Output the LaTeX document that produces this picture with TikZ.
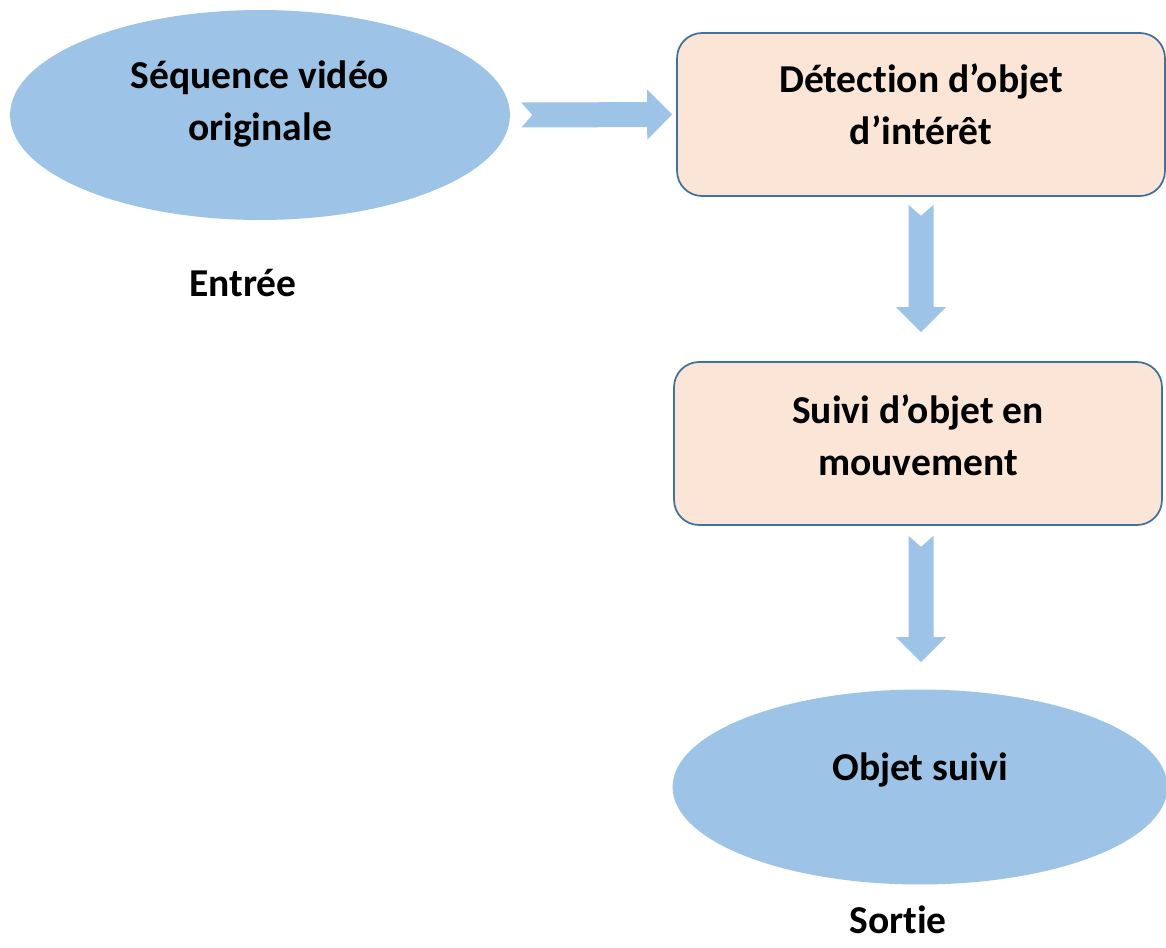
\documentclass[tikz,border=0pt]{standalone}
\usepackage{fontspec}
\setmainfont[Ligatures=NoCommon]{Carlito}
\usetikzlibrary{calc,shapes.geometric}
\definecolor{bleu}{HTML}{9DC3E6}
\definecolor{peche}{HTML}{FBE5D6}
\definecolor{bord}{HTML}{41719C}
\tikzset{
  etape/.style={draw=bord,line width=1pt,fill=peche,rounded corners=0.5cm,
    minimum width=9.76cm,minimum height=3.26cm},
  bulle/.style={ellipse,fill=bleu,inner sep=0pt},
  texte/.style={align=center,font=\fontsize{22.5pt}{29.6pt}\selectfont\bfseries},
  fleche/.style={fill=bleu}
}
% block arrow with notched tail, from coordinate #1 to coordinate #2
\newcommand{\blocarrow}[2]{%
  \coordinate (h) at ($(#2)!0.5cm!(#1)$);
  \fill[fleche] ($(#1)!0.25cm!90:(#2)$) -- ($(h)!0.25cm!-90:(#1)$)
    -- ($(h)!0.5cm!-90:(#1)$) -- (#2) -- ($(h)!0.5cm!90:(#1)$)
    -- ($(h)!0.25cm!90:(#1)$) -- ($(#1)!0.25cm!-90:(#2)$)
    -- ($(#1)!0.22cm!(#2)$) -- cycle;}

\begin{document}
\begin{tikzpicture}[x=0.02cm,y=-0.02cm]
  \useasboundingbox (0,0) rectangle (1166,947);
  % Entree
  \node[bulle,minimum width=10cm,minimum height=4.2cm] (seq) at (260,115) {};
  \node[texte] (seqtxt) at ($(seq)+(0,-11)$) {Séquence vidéo\\originale};
  \node[texte] (entree) at (243,283) {Entrée};
  % Traitement
  \node[etape] (det) at (921,114.5) {};
  \node[texte] (dettxt) at ($(det)+(0,-10)$) {Détection d’objet\\d’intérêt};
  \node[etape] (suivi) at (918,443.5) {};
  \node[texte] (suivitxt) at ($(suivi)+(0,-8)$) {Suivi d’objet en\\mouvement};
  % Sortie
  \node[bulle,minimum width=9.9cm,minimum height=3.9cm] (obj) at (920,787) {};
  \node[texte] (objtxt) at ($(obj)+(0,-17)$) {Objet suivi};
  \node[texte,inner sep=1pt] (sortie) at (898,920) {Sortie};
  % Fleches
  \coordinate (a1) at ($(seq.east)+(11,0)$);
  \coordinate (b1) at ($(det.west)+(-4,0)$);
  \coordinate (a2) at ($(det.south)+(0,8)$);
  \coordinate (b2) at ($(suivi.north)+(3,-29)$);
  \coordinate (a3) at ($(suivi.south)+(3,10)$);
  \coordinate (b3) at ($(obj.north)+(1,-27)$);
  \blocarrow{a1}{b1}
  \blocarrow{a2}{b2}
  \blocarrow{a3}{b3}
\end{tikzpicture}
\end{document}
